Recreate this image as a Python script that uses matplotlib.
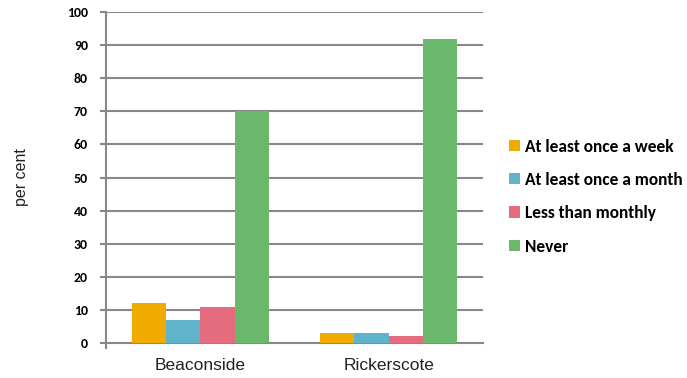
import numpy as np
import matplotlib
matplotlib.use("Agg")
import matplotlib.pyplot as plt

sites = ["Beaconside", "Rickerscote"]
frequency = ["At least once a week", "At least once a month", "Less than monthly", "Never"]
at_least_weekly = [12, 3]
at_least_monthly = [7, 3]
less_than_monthly = [11, 2]
never = [70, 92]
yticks = [0, 10, 20, 30, 40, 50, 60, 70, 80, 90, 100]

series = [at_least_weekly, at_least_monthly, less_than_monthly, never]
colors = ["#F0AB00", "#5FB3CB", "#E56B7F", "#6BB76C"]
grey = "#888888"
calibri = ["Carlito", "DejaVu Sans"]
arial = ["Liberation Sans", "DejaVu Sans"]

fig = plt.figure(figsize=(6.87, 3.78), dpi=100)
ax = fig.add_axes([0.1543, 0.0926, 0.5487, 0.8754])

x = np.arange(len(sites))
width = 0.182
for i, (vals, c) in enumerate(zip(series, colors)):
    ax.bar(x + (i - 1.5) * width, vals, width, color=c, label=frequency[i], zorder=3)

ax.set_xlim(-0.5, 1.5)
ax.set_ylim(0, 100)
ax.set_yticks(yticks)
ax.set_yticklabels([str(t) for t in yticks], fontsize=10, fontweight="bold",
                   family=calibri)
ax.yaxis.grid(True, color=grey, linewidth=1.5, zorder=0)
ax.set_axisbelow(True)

ax.set_xticks([0, 1])
ax.set_xticklabels(sites, fontsize=12.5, color="#222222", family=arial)
ax.tick_params(axis="x", length=0, pad=11)
ax.tick_params(axis="y", length=4, width=1.5, color=grey, pad=9)
ax.plot([-0.5, -0.5], [0, -1.5], color=grey, lw=1.5, clip_on=False)

for s in ["top", "right"]:
    ax.spines[s].set_visible(False)
for s in ["left", "bottom"]:
    ax.spines[s].set_color(grey)
    ax.spines[s].set_linewidth(1.5)

ax.set_ylabel("per cent", fontsize=11.5, color="#222222", family=arial, labelpad=0)
ax.yaxis.set_label_coords(-0.205, 0.5)

fig.legend(loc="center left", bbox_to_anchor=(0.718, 0.48), frameon=False,
           prop={"family": calibri, "weight": "bold", "size": 12.5},
           labelspacing=1.0, handlelength=0.63, handleheight=0.63,
           handletextpad=0.3)

fig.savefig("out.png", dpi=100)
